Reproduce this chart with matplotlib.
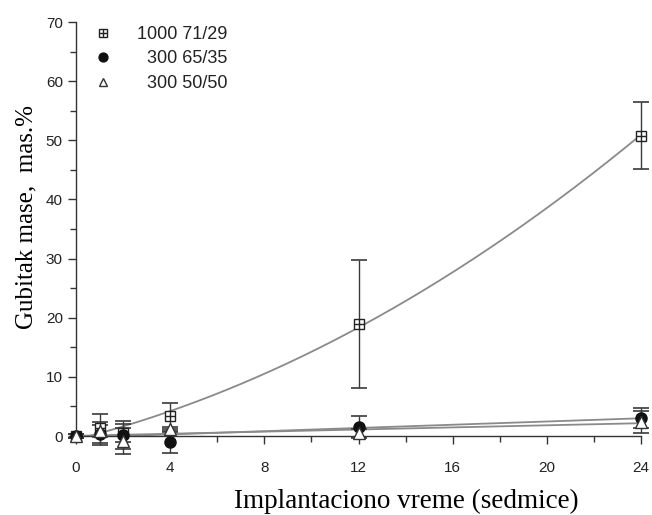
import numpy as np
import matplotlib
matplotlib.use("Agg")
import matplotlib.pyplot as plt
from matplotlib.ticker import MultipleLocator

weeks = [0, 1, 2, 4, 12, 24]
loss_1000 = [0.0, 1.3, 0.5, 3.4, 19.0, 50.8]
err_1000 = [0.4, 2.5, 1.5, 2.2, 10.8, 5.7]
loss_300_65 = [0.0, 0.4, 0.2, -1.0, 1.5, 3.1]
err_300_65 = [0.4, 2.0, 2.4, 1.9, 1.9, 1.7]
loss_300_50 = [0.0, 0.8, -0.8, 1.1, 0.5, 2.4]
err_300_50 = [0.4, 1.0, 2.2, 0.5, 0.7, 1.9]
labels = ["1000 71/29", "  300 65/35", "  300 50/50"]

x = np.array(weeks, dtype=float)
xs = np.linspace(0, 24, 300)

fig = plt.figure(figsize=(6.52, 5.15), dpi=100)
ax = fig.add_axes([76/652, 1-436/515, (641-76)/652, (436-22)/515])

curve_c = "#8a8a8a"
err_c = "#3a3a3a"

# fitted curves
p2 = np.polyfit(x, loss_1000, 2)
ax.plot(xs, np.polyval(p2, xs), color=curve_c, lw=1.3, zorder=2)
p65 = np.polyfit(x, loss_300_65, 1)
ax.plot(xs, np.polyval(p65, xs), color=curve_c, lw=1.3, zorder=2)
p50 = np.polyfit(x, loss_300_50, 1)
ax.plot(xs, np.polyval(p50, xs), color=curve_c, lw=1.3, zorder=2)

ekw = dict(fmt="none", ecolor=err_c, elinewidth=1.0, capsize=6, capthick=1.2, clip_on=False, zorder=3)
for yv, ev in [(loss_1000, err_1000), (loss_300_65, err_300_65), (loss_300_50, err_300_50)]:
    eb = ax.errorbar(x, yv, yerr=ev, **ekw)
    for art in list(eb.lines[1]) + list(eb.lines[2]):
        art.set_clip_on(False)

sq, = ax.plot(x, loss_1000, ls="none", marker="s", ms=7, mfc="white", mec="#222222", mew=1.0, clip_on=False, zorder=4)
pl, = ax.plot(x, loss_1000, ls="none", marker="+", ms=7, mec="#222222", mew=1.0, clip_on=False, zorder=5)
ci, = ax.plot(x, loss_300_65, ls="none", marker="o", ms=8, mfc="#111111", mec="#111111", clip_on=False, zorder=6)
tr, = ax.plot(x, loss_300_50, ls="none", marker="^", ms=8, mfc="white", mec="#333333", mew=1.0, clip_on=False, zorder=7)

ax.set_xlim(0, 24)
ax.set_ylim(0, 70)
ax.xaxis.set_major_locator(MultipleLocator(4))
ax.xaxis.set_minor_locator(MultipleLocator(2))
ax.yaxis.set_major_locator(MultipleLocator(10))
ax.yaxis.set_minor_locator(MultipleLocator(5))
for s in ["top", "right"]:
    ax.spines[s].set_visible(False)
for s in ["left", "bottom"]:
    ax.spines[s].set_color("#333333")
    ax.spines[s].set_linewidth(1.0)
ax.tick_params(which="major", direction="out", length=6, width=1, color="#333333",
               labelsize=11, labelcolor="#222222")
ax.tick_params(which="minor", direction="out", length=4, width=1, color="#333333")
for t in ax.get_xticklabels() + ax.get_yticklabels():
    t.set_family("Liberation Sans")
ax.tick_params(axis="x", pad=12)

ax.set_xlabel("Implantaciono vreme (sedmice)", family="Liberation Serif", fontsize=19.5,
              labelpad=10, x=0.584)
ax.set_ylabel("Gubitak mase,  mas.%", family="Liberation Serif", fontsize=18,
              labelpad=6, y=0.529)

leg = ax.legend([(sq, pl), ci, tr], labels, loc="upper left", bbox_to_anchor=(0.003, 1.03),
                frameon=False, prop={"family": "Liberation Sans", "size": 13},
                handlelength=1.0, handletextpad=1.38, labelspacing=0.42, borderaxespad=0.5,
                markerscale=0.8)
for t in leg.get_texts():
    t.set_color("#222222")

fig.savefig("out.png", dpi=100)
